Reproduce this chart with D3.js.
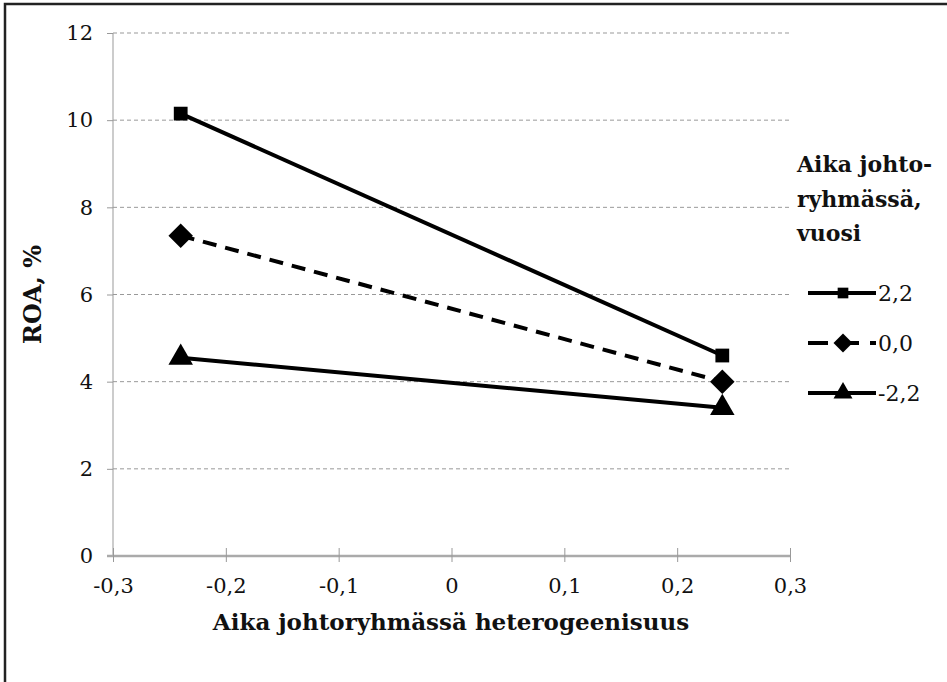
<!DOCTYPE html>
<html>
<head>
<meta charset="utf-8">
<script src="https://cdn.jsdelivr.net/npm/d3@7"></script>
<style>
  body { margin: 0; background: #fff; }
  svg, svg text { font-family: "DejaVu Serif", "Liberation Serif", serif !important; }
</style>
</head>
<body>
<div id="chart"></div>
<script>
// Data
const xValues = [-0.24, 0.24];
const seriesNames = ["2,2", "0,0", "-2,2"];
const roaHigh = [10.15, 4.6];   // 2,2
const roaMid = [7.35, 4.0];     // 0,0
const roaLow = [4.55, 3.4];     // -2,2
const xTicks = [-0.3, -0.2, -0.1, 0, 0.1, 0.2, 0.3];
const yTicks = [0, 2, 4, 6, 8, 10, 12];
const legendTitle = ["Aika johto-", "ryhmässä,", "vuosi"];

const width = 947;
const height = 682;
const marginLeft = 113;
const marginRight = 157;
const marginTop = 33;
const marginBottom = 126;

const x = d3.scaleLinear([-0.3, 0.3], [marginLeft, width - marginRight]);
const y = d3.scaleLinear([0, 12], [height - marginBottom, marginTop]);

// wide diamond like the spreadsheet marker
const wideDiamond = {
  draw(context, size) {
    const r = Math.sqrt(size / 2);
    context.moveTo(0, -r);
    context.lineTo(r, 0);
    context.lineTo(0, r);
    context.lineTo(-r, 0);
    context.closePath();
  },
};

const svg = d3.create("svg").attr("width", width).attr("height", height);

// Outer frame (right and bottom edges run off the page)
svg.append("rect")
  .attr("x", 5).attr("y", 4)
  .attr("width", width + 10).attr("height", height + 10)
  .attr("fill", "none").attr("stroke", "#222").attr("stroke-width", 2.5);

// Horizontal dashed gridlines
svg.append("g")
  .selectAll("line")
  .data(yTicks.filter((d) => d > 0))
  .join("line")
  .attr("x1", marginLeft).attr("x2", width - marginRight)
  .attr("y1", (d) => y(d)).attr("y2", (d) => y(d))
  .attr("stroke", "#999").attr("stroke-width", 1)
  .attr("stroke-dasharray", "4,3");

// Y axis
svg.append("g")
  .attr("transform", `translate(${marginLeft},0)`)
  .call(d3.axisLeft(y).tickValues(yTicks).tickSize(6).tickPadding(14).tickFormat(d3.format("d")))
  .call((g) => g.attr("font-family", null))
  .call((g) => g.select(".domain").attr("stroke", "#999").attr("d", `M0,${y(0)}V${y(12)}`))
  .call((g) => g.selectAll(".tick line").attr("stroke", "#999"))
  .call((g) => g.selectAll(".tick text").attr("font-size", 21).attr("fill", "#111"));

// X axis
const fmtX = (d) => (d === 0 ? "0" : d3.format(".1f")(d).replace("−", "-").replace(".", ","));
svg.append("g")
  .attr("transform", `translate(0,${y(0)})`)
  .call(d3.axisBottom(x).tickValues(xTicks).tickSizeOuter(0).tickSize(8).tickPadding(14).tickFormat(fmtX))
  .call((g) => g.attr("font-family", null))
  .call((g) => g.select(".domain").attr("stroke", "#aaa").attr("stroke-width", 2.5)
    .attr("d", `M${marginLeft - 6},0H${width - marginRight}`))
  .call((g) => g.selectAll(".tick line").attr("stroke", "#999").attr("y1", -8).attr("y2", 6))
  .call((g) => g.selectAll(".tick text").attr("font-size", 21).attr("fill", "#111"));

// Axis titles
svg.append("text")
  .attr("x", 451)
  .attr("y", 630)
  .attr("text-anchor", "middle")
  .attr("font-size", 23).attr("font-weight", "bold").attr("fill", "#111")
  .text("Aika johtoryhmässä heterogeenisuus");

svg.append("text")
  .attr("transform", `translate(41,${y(6)}) rotate(-90)`)
  .attr("text-anchor", "middle")
  .attr("font-size", 24).attr("font-weight", "bold").attr("fill", "#111")
  .text("ROA, %");

// Series
const series = [
  { name: seriesNames[0], values: roaHigh, dash: null, symbol: d3.symbolSquare, size: 190 },
  { name: seriesNames[1], values: roaMid, dash: "14,9", symbol: wideDiamond, size: 300 },
  { name: seriesNames[2], values: roaLow, dash: null, symbol: d3.symbolTriangle, size: 260 },
];

const line = d3.line().x((d) => x(d[0])).y((d) => y(d[1]));

series.forEach((s) => {
  const pts = xValues.map((xv, i) => [xv, s.values[i]]);
  svg.append("path")
    .attr("d", line(pts))
    .attr("fill", "none").attr("stroke", "#000").attr("stroke-width", 4)
    .attr("stroke-dasharray", s.dash);
  svg.append("g")
    .selectAll("path")
    .data(pts)
    .join("path")
    .attr("transform", (d) => `translate(${x(d[0])},${y(d[1])})`)
    .attr("d", d3.symbol(s.symbol, s.size))
    .attr("fill", "#000");
});

// Legend
const legend = svg.append("g").attr("transform", "translate(806,0)");
legend.append("text")
  .attr("font-size", 22).attr("font-weight", "bold").attr("fill", "#111")
  .selectAll("tspan")
  .data(legendTitle)
  .join("tspan")
  .attr("x", -9)
  .attr("y", (d, i) => 172 + i * 34.5)
  .text((d) => d);

const legendY = [293, 343, 393];
series.forEach((s, i) => {
  const g = legend.append("g").attr("transform", `translate(0,${legendY[i]})`);
  g.append("line")
    .attr("x1", 2).attr("x2", 70)
    .attr("stroke", "#000").attr("stroke-width", 4)
    .attr("stroke-dasharray", s.dash ? "20,11" : null);
  g.append("path")
    .attr("transform", "translate(37,0)")
    .attr("d", d3.symbol(s.symbol, s.size * 0.6))
    .attr("fill", "#000");
  g.append("text")
    .attr("x", 72).attr("y", 8)
    .attr("font-size", 22).attr("fill", "#111")
    .text(s.name);
});

document.getElementById("chart").appendChild(svg.node());
</script>
</body>
</html>
